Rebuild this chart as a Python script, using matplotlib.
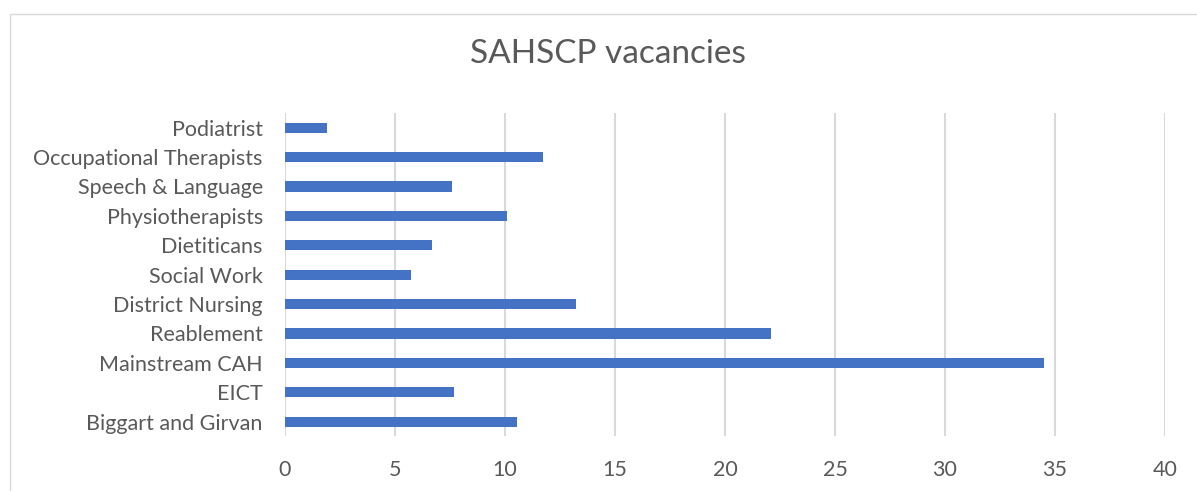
import matplotlib
matplotlib.use("Agg")
import matplotlib.pyplot as plt
from matplotlib.patches import Rectangle

categories = ["Biggart and Girvan", "EICT", "Mainstream CAH", "Reablement",
              "District Nursing", "Social Work", "Dietiticans", "Physiotherapists",
              "Speech & Language", "Occupational Therapists", "Podiatrist"]
values = [10.56, 7.67, 34.5, 22.09, 13.23, 5.74, 6.7, 10.1, 7.6, 11.71, 1.92]
xticks = [0, 5, 10, 15, 20, 25, 30, 35, 40]
title = "SAHSCP vacancies"

W, H = 1197, 491
fig = plt.figure(figsize=(W / 100, H / 100), dpi=100)
plt.rcParams['font.family'] = ['Lato', 'DejaVu Sans']

# chart border
fig.patches.append(Rectangle((10 / W, -0.1), (W + 10) / W, 1.1 - 14 / H,
                             transform=fig.transFigure, fill=False,
                             edgecolor="#d9d9d9", linewidth=1.0))

ax = fig.add_axes([285 / W, 1 - 436.4 / H, (1165 - 285) / W, (436.4 - 113) / H])
ax.barh(range(len(categories)), values, height=0.35, color="#4472C4", zorder=3)
ax.set_xlim(0, 40)
ax.set_ylim(-0.5, len(categories) - 0.5)
ax.set_xticks(xticks)
ax.set_xticklabels([str(t) for t in xticks])
ax.set_yticks(range(len(categories)))
ax.set_yticklabels(categories)
for s in ax.spines.values():
    s.set_visible(False)
ax.grid(axis="x", color="#d9d9d9", linewidth=1.5, zorder=0)
ax.tick_params(axis="both", length=0, labelsize=15.5, colors="#595959")
ax.tick_params(axis="x", pad=17)
ax.tick_params(axis="y", pad=16)

fig.text(608 / W, 1 - 54 / H, title, ha="center", va="center",
         fontsize=24, color="#595959")

fig.savefig("out.png", dpi=100)
